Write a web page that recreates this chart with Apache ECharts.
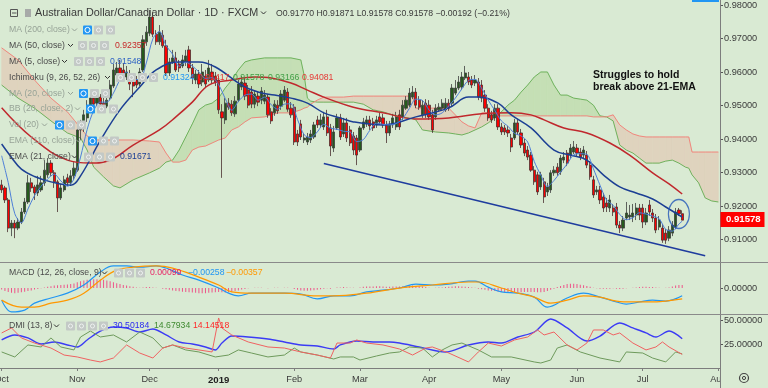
<!DOCTYPE html>
<html><head><meta charset="utf-8">
<script src="https://cdn.jsdelivr.net/npm/echarts@6/dist/echarts.min.js"></script>
<style>html,body{margin:0;padding:0;background:#d9ead3;}#c{width:768px;height:388px;}</style>
</head><body><div id="c"></div>
<script>
// ---------- categories (weekdays Oct 1 2018 .. Aug 1 2019) ----------
const cats = [];
for (let d = new Date(Date.UTC(2018, 9, 1)); d <= new Date(Date.UTC(2019, 7, 1)); d.setUTCDate(d.getUTCDate() + 1)) {
  const wd = d.getUTCDay();
  if (wd === 0 || wd === 6) continue;
  cats.push(d.toISOString().slice(0, 10));
}
const monthLabels = ['2019','Feb','Mar','Apr','May','Jun','Jul','Aug','Sep','Oct','Nov','Dec'];
const priceTicks = [0.91,0.92,0.93,0.94,0.95,0.96,0.97,0.98];
const macdTicks = [0];
const dmiTicks = [25,50];

// ---------- candles ----------
const opens = [
.9263,.9254,.9218,.9134,.9149,.9134,.9152,.9182,.9212,.9269,
.9257,.9239,.9248,.9269,.9293,.9328,.9299,.9272,.9224,.9248,
.9284,.9269,.9290,.9307,.9427,.9433,.9463,.9495,.9522,.9507,
.9525,.9507,.9498,.9522,.9558,.9591,.9612,.9606,.9585,.9591,
.9576,.9576,.9564,.9606,.9690,.9716,.9764,.9713,.9690,.9710,
.9678,.9597,.9630,.9642,.9624,.9618,.9630,.9666,.9612,.9576,
.9594,.9570,.9588,.9576,.9600,.9588,.9576,.9481,.9457,.9507,
.9504,.9475,.9516,.9555,.9567,.9546,.9540,.9504,.9528,.9516,
.9513,.9525,.9481,.9478,.9501,.9498,.9516,.9540,.9492,.9495,
.9415,.9445,.9397,.9391,.9397,.9406,.9457,.9442,.9436,.9466,
.9433,.9373,.9433,.9463,.9415,.9448,.9427,.9409,.9403,.9367,
.9433,.9445,.9457,.9451,.9442,.9466,.9463,.9442,.9418,.9442,
.9436,.9472,.9466,.9492,.9501,.9525,.9540,.9516,.9472,.9507,
.9501,.9472,.9466,.9487,.9492,.9487,.9507,.9507,.9537,.9552,
.9555,.9582,.9585,.9576,.9567,.9570,.9561,.9531,.9492,.9472,
.9463,.9492,.9436,.9433,.9427,.9403,.9403,.9448,.9418,.9388,
.9367,.9352,.9307,.9293,.9257,.9272,.9242,.9248,.9299,.9316,
.9302,.9337,.9358,.9352,.9361,.9373,.9361,.9352,.9352,.9322,
.9278,.9242,.9248,.9227,.9209,.9194,.9194,.9197,.9143,.9134,
.9164,.9167,.9167,.9173,.9194,.9194,.9152,.9203,.9179,.9164,
.9137,.9134,.9119,.9104,.9119,.9137,.9188,.9177];
const closes = [
.9248,.9218,.9134,.9149,.9134,.9152,.9182,.9212,.9269,.9254,
.9239,.9263,.9269,.9307,.9328,.9299,.9272,.9224,.9254,.9278,
.9269,.9290,.9313,.9427,.9433,.9472,.9495,.9522,.9504,.9525,
.9504,.9498,.9516,.9561,.9606,.9612,.9591,.9585,.9600,.9564,
.9558,.9561,.9600,.9696,.9719,.9764,.9713,.9690,.9719,.9678,
.9597,.9630,.9642,.9606,.9612,.9636,.9648,.9612,.9582,.9594,
.9564,.9600,.9564,.9612,.9576,.9570,.9487,.9463,.9507,.9495,
.9478,.9513,.9564,.9570,.9528,.9501,.9504,.9534,.9510,.9543,
.9531,.9472,.9454,.9504,.9484,.9534,.9546,.9489,.9472,.9391,
.9391,.9406,.9403,.9406,.9415,.9442,.9442,.9457,.9466,.9418,
.9379,.9421,.9463,.9406,.9448,.9403,.9388,.9367,.9352,.9433,
.9451,.9457,.9439,.9433,.9457,.9451,.9442,.9418,.9442,.9463,
.9466,.9436,.9501,.9516,.9537,.9540,.9501,.9495,.9501,.9472,
.9466,.9427,.9492,.9495,.9507,.9507,.9492,.9552,.9552,.9570,
.9585,.9597,.9570,.9561,.9576,.9525,.9522,.9492,.9463,.9457,
.9492,.9436,.9421,.9421,.9418,.9376,.9448,.9421,.9382,.9358,
.9346,.9307,.9272,.9242,.9293,.9227,.9257,.9299,.9307,.9299,
.9343,.9346,.9328,.9373,.9376,.9358,.9346,.9367,.9322,.9287,
.9233,.9248,.9218,.9194,.9197,.9218,.9182,.9143,.9134,.9158,
.9179,.9173,.9179,.9194,.9173,.9152,.9179,.9182,.9164,.9128,
.9158,.9098,.9098,.9128,.9143,.9182,.9177,.91578];
const lows = [
.9239,.9209,.9122,.9110,.9104,.9128,.9146,.9176,.9206,.9242,
.9218,.9230,.9242,.9260,.9284,.9290,.9254,.9182,.9218,.9242,
.9260,.9260,.9278,.9302,.9397,.9421,.9451,.9487,.9492,.9498,
.9498,.9487,.9492,.9516,.9552,.9576,.9582,.9576,.9576,.9546,
.9525,.9552,.9558,.9600,.9678,.9707,.9704,.9681,.9681,.9672,
.9588,.9588,.9624,.9600,.9600,.9612,.9618,.9600,.9564,.9564,
.9552,.9558,.9552,.9570,.9564,.9558,.9475,.9284,.9445,.9487,
.9469,.9466,.9510,.9546,.9516,.9492,.9492,.9492,.9498,.9504,
.9504,.9463,.9445,.9469,.9475,.9487,.9510,.9481,.9463,.9382,
.9379,.9397,.9388,.9382,.9388,.9400,.9433,.9433,.9427,.9409,
.9349,.9361,.9427,.9397,.9406,.9391,.9379,.9352,.9322,.9361,
.9427,.9436,.9427,.9424,.9433,.9442,.9433,.9388,.9409,.9433,
.9427,.9427,.9457,.9487,.9495,.9519,.9492,.9487,.9463,.9463,
.9457,.9418,.9457,.9481,.9484,.9481,.9484,.9498,.9531,.9546,
.9546,.9576,.9561,.9552,.9558,.9516,.9510,.9481,.9454,.9448,
.9454,.9427,.9412,.9412,.9406,.9361,.9397,.9412,.9373,.9349,
.9337,.9302,.9263,.9233,.9248,.9209,.9230,.9239,.9290,.9290,
.9293,.9328,.9319,.9343,.9355,.9349,.9337,.9343,.9313,.9278,
.9224,.9233,.9206,.9182,.9182,.9182,.9170,.9134,.9119,.9125,
.9158,.9158,.9152,.9158,.9158,.9134,.9143,.9170,.9152,.9119,
.9128,.9090,.9087,.9095,.9110,.9131,.9170,.91578];
const highs = [
.9278,.9260,.9224,.9158,.9158,.9164,.9194,.9224,.9293,.9284,
.9263,.9290,.9290,.9337,.9343,.9337,.9307,.9278,.9266,.9290,
.9296,.9307,.9331,.9442,.9457,.9487,.9516,.9534,.9534,.9540,
.9534,.9531,.9546,.9576,.9624,.9630,.9636,.9627,.9618,.9606,
.9588,.9588,.9612,.9710,.9737,.9785,.9779,.9725,.9740,.9725,
.9696,.9642,.9666,.9660,.9636,.9651,.9666,.9678,.9624,.9606,
.9606,.9624,.9606,.9636,.9624,.9600,.9588,.9504,.9522,.9522,
.9516,.9528,.9576,.9588,.9582,.9561,.9558,.9546,.9540,.9555,
.9546,.9534,.9492,.9516,.9516,.9546,.9558,.9552,.9510,.9504,
.9427,.9457,.9415,.9418,.9427,.9451,.9469,.9475,.9481,.9487,
.9445,.9439,.9475,.9475,.9463,.9463,.9439,.9421,.9412,.9439,
.9463,.9469,.9469,.9463,.9469,.9478,.9475,.9454,.9454,.9475,
.9481,.9487,.9516,.9528,.9552,.9558,.9552,.9528,.9516,.9519,
.9516,.9487,.9504,.9507,.9519,.9522,.9519,.9564,.9576,.9588,
.9600,.9618,.9600,.9588,.9591,.9582,.9576,.9546,.9504,.9484,
.9504,.9504,.9448,.9442,.9439,.9415,.9460,.9460,.9430,.9400,
.9379,.9361,.9319,.9302,.9302,.9284,.9269,.9307,.9319,.9328,
.9352,.9361,.9367,.9385,.9394,.9385,.9373,.9379,.9364,.9334,
.9290,.9260,.9260,.9239,.9224,.9233,.9206,.9209,.9155,.9170,
.9212,.9203,.9206,.9209,.9206,.9206,.9194,.9218,.9191,.9176,
.9170,.9146,.9131,.9140,.9155,.9194,.9194,.91871];

// ---------- overlays ([day index, value]) ----------
const ma50Pts = [[0,.9493],[9,.9406],[20,.9337],[27,.9328],[33,.9337],[40,.9382],[48,.9427],[53,.9466],[58,.9510],[63,.9561],[70,.9576],[77,.9585],[82,.9582],[88,.9567],[93,.9546],[98,.9525],[107,.9495],[116,.9478],[126,.9460],[136,.9463],[146,.9475],[155,.9478],[161,.9472],[165,.9457],[171,.9433],[178,.9418],[185,.9388],[191,.9352],[198,.9299],[203,.9266],[207,.92357]];
const ema21Pts = [[0,.9385],[3,.9345],[6,.9310],[10,.9288],[15,.9272],[21,.9262],[24,.9290],[30,.9395],[36,.9487],[42,.9555],[47,.9606],[54,.9630],[60,.9630],[65,.9615],[73,.9561],[78,.9540],[83,.9531],[88,.9522],[93,.9507],[98,.9478],[103,.9463],[107,.9451],[116,.9442],[126,.9466],[136,.9493],[142,.9525],[145,.9525],[151,.9507],[155,.9472],[161,.9433],[168,.9367],[173,.9352],[178,.9337],[183,.9293],[188,.9257],[193,.9239],[198,.9221],[202,.9197],[207,.91671]];
const ma5Pts = [[0,.9350],[2,.9270],[4,.9177],[6,.9150],[8,.9191],[10,.9231],[12,.9259],[14,.9281],[16,.9295],[18,.9275],[20,.9259],[22,.9281],[24,.9346],[26,.9428],[28,.9485],[30,.9510],[32,.9510],[34,.9537],[36,.9577],[38,.9599],[40,.9580],[42,.9577],[44,.9627],[46,.9699],[48,.9721],[50,.9679],[52,.9653],[54,.9617],[56,.9629],[58,.9618],[60,.9600],[62,.9581],[64,.9583],[66,.9562],[68,.9521],[70,.9486],[72,.9512],[74,.9531],[76,.9534],[78,.9516],[80,.9525],[82,.9502],[84,.9489],[86,.9504],[88,.9505],[90,.9458],[92,.9413],[94,.9404],[96,.9421],[98,.9444],[100,.9432],[102,.9429],[104,.9423],[106,.9421],[108,.9392],[110,.9398],[112,.9426],[114,.9447],[116,.9444],[118,.9442],[120,.9446],[122,.9461],[124,.9491],[126,.9519],[128,.9515],[130,.9487],[132,.9472],[134,.9478],[136,.9499],[138,.9522],[140,.9550],[142,.9575],[144,.9578],[146,.9551],[148,.9516],[150,.9485],[152,.9454],[154,.9438],[156,.9417],[158,.9409],[160,.9391],[162,.9333],[164,.9292],[166,.9258],[168,.9276],[170,.9301],[172,.9325],[174,.9353],[176,.9356],[178,.9354],[180,.9311],[182,.9262],[184,.9218],[186,.9202],[188,.9175],[190,.9159],[192,.9165],[194,.9180],[196,.9176],[198,.9170],[200,.9162],[202,.9130],[204,.9125],[206,.9146],[207,.91548]];

// Ichimoku leading spans (shifted 26 bars ahead)
const cloudIdx = [0,5,10,15,20,24,26,28,31,34,36,40,45,48,50,52,54,56,58,60,62,64,66,68,70,72,74,76,80,84,88,91,92,93,94,96,98,104,107,110,113,116,119,122,125,126,128,132,136,138,140,142,144,146,148,150,152,154,156,158,160,162,164,166,168,170,172,174,176,178,180,182,184,186,188,190,192,194,196,198,200,202,204,206,208,209,210,212,214,216,218];
const spanA = [.9561,.9522,.9492,.9454,.9418,.9403,.9367,.9316,.9287,.9260,.9254,.9278,.9299,.9313,.9331,.9337,.9367,.9406,.9445,.9487,.9501,.9507,.9522,.9552,.9576,.9606,.9630,.9636,.9642,.9642,.9642,.9636,.9591,.9522,.9513,.9510,.9510,.9510,.9510,.9504,.9487,.9481,.9472,.9466,.9460,.9457,.9427,.9421,.9418,.9415,.9412,.9418,.9427,.9436,.9448,.9463,.9481,.9501,.9516,.9540,.9561,.9585,.9600,.9600,.9561,.9531,.9531,.9522,.9519,.9516,.9501,.9469,.9466,.9454,.9382,.9367,.9358,.9343,.9328,.9328,.9328,.9334,.9337,.9328,.9316,.9313,.9293,.9269,.9224,.9215,.9212];
const spanB = [.9672,.9636,.9576,.9522,.9481,.9433,.9409,.9397,.9397,.9397,.9397,.9397,.9394,.9391,.9358,.9331,.9331,.9337,.9367,.9376,.9379,.9388,.9397,.9403,.9427,.9436,.9451,.9463,.9466,.9478,.9478,.9487,.9492,.9495,.9504,.9516,.9525,.9525,.9528,.9528,.9528,.9528,.9528,.9528,.9528,.9492,.9492,.9492,.9492,.9472,.9451,.9439,.9433,.9478,.9478,.9469,.9469,.9469,.9469,.9469,.9469,.9469,.9469,.9469,.9469,.9469,.9469,.9469,.9469,.9469,.9466,.9466,.9466,.9472,.9442,.9427,.9415,.9409,.9406,.9406,.9406,.9406,.9406,.9406,.9406,.9406,.9361,.9361,.9361,.9361,.9361];

// trend line drawing (two anchor points) and highlight circle
const trendPts = [[98,.9327],[214,.90512]];
const circlePt = [[206,.9176]];

// ---------- MACD ----------
const macdPts = [[0,-.0040],[3,-.0079],[7,-.0073],[10,-.0050],[15,-.0033],[20,-.0017],[25,.0010],[30,.0053],[34,.0073],[38,.0073],[42,.0069],[47,.0073],[50,.0066],[55,.0043],[60,.0026],[66,.0000],[69,-.0017],[72,-.0026],[76,-.0017],[81,-.0017],[86,-.0017],[91,-.0020],[96,-.0036],[101,-.0026],[106,-.0026],[111,-.0013],[116,-.0007],[121,.0000],[126,.0013],[131,.0010],[136,.0013],[142,.0023],[144,.0023],[148,.0003],[152,-.0013],[157,-.0017],[162,-.0030],[166,-.0063],[172,-.0033],[177,-.0017],[182,-.0030],[187,-.0046],[190,-.0053],[194,-.0046],[198,-.0040],[202,-.0043],[207,-.00258]];
const signalPts = [[0,-.0040],[6,-.0063],[10,-.0063],[15,-.0050],[20,-.0040],[25,-.0017],[30,.0026],[35,.0059],[40,.0069],[47,.0073],[52,.0066],[60,.0036],[66,.0010],[70,-.0013],[76,-.0017],[86,-.0017],[96,-.0026],[101,-.0026],[111,-.0017],[121,.0000],[131,.0010],[142,.0020],[145,.0020],[152,.0000],[157,-.0017],[162,-.0030],[167,-.0050],[172,-.0040],[177,-.0026],[182,-.0030],[187,-.0043],[192,-.0046],[197,-.0046],[202,-.0043],[207,-.00357]];
const hist = [
-.0005,-.0010,-.0013,
-.0016,-.0017,-.0016,-.0014,-.0012,-.0010,-.0008,
-.0005,-.0003,-.0001,.0002,.0004,
.0006,.0008,.0009,.0010,.0011,.0012,.0013,.0015,
.0019,.0022,.0025,.0027,.0028,.0029,.0029,.0028,.0027,.0025,
.0022,.0019,.0016,.0013,.0010,.0008,.0006,.0004,
.0002,.0001,.0002,.0003,.0003,.0002,.0001,.0000,
-.0002,-.0004,-.0006,-.0008,-.0010,-.0011,-.0012,-.0013,
-.0014,-.0015,-.0016,-.0017,-.0017,-.0017,-.0016,-.0015,-.0014,-.0013,
-.0014,-.0015,-.0014,-.0012,-.0010,-.0008,
-.0005,-.0003,-.0001,.0000,.0001,.0001,.0001,.0000,
-.0001,.0000,.0001,.0001,.0000,.0001,.0001,.0000,
-.0003,-.0006,-.0008,-.0009,-.0009,-.0008,-.0007,-.0006,
-.0004,-.0002,-.0001,-.0002,.0000,.0002,.0002,.0003,
.0002,.0001,.0001,.0000,.0002,.0004,.0005,.0005,
.0005,.0006,.0006,.0005,.0004,.0004,.0005,.0005,
.0005,.0006,.0007,.0008,.0008,.0007,.0006,.0005,
.0003,.0001,.0000,.0001,.0002,.0002,.0003,.0004,
.0005,.0006,.0006,.0005,.0004,.0003,.0002,.0001,
-.0002,-.0004,-.0006,-.0008,-.0009,-.0010,-.0012,-.0013,
-.0014,-.0015,-.0016,-.0015,-.0014,-.0014,-.0013,-.0013,
-.0013,-.0013,-.0014,-.0014,-.0013,-.0010,-.0006,-.0002,
.0003,.0007,.0010,.0013,.0014,.0014,.0013,.0011,
.0009,.0007,.0004,.0001,-.0001,-.0002,-.0002,-.0002,
-.0002,-.0001,-.0002,-.0003,-.0002,-.0001,.0000,.0001,
.0002,.0003,.0004,.0004,.0003,.0003,.0002,.0001,
.0000,.0001,.0002,.0005,.0008,.0010,.00099];

// ---------- DMI ----------
const dmiBlue = [[0,29.2],[4,34.4],[8,31.3],[12,25.0],[16,27.1],[20,24.0],[23,21.9],[26,29.2],[30,38.5],[34,42.7],[38,41.7],[42,37.5],[46,40.6],[50,34.4],[54,27.1],[58,25.0],[62,21.9],[65,18.8],[67,26.0],[70,33.3],[75,32.3],[81,30.2],[86,27.1],[91,24.0],[96,22.9],[101,19.8],[103,24.0],[108,28.1],[113,27.1],[118,27.1],[121,26.0],[127,21.9],[135,16.7],[142,24.0],[148,27.1],[152,26.0],[157,32.3],[162,37.5],[167,51.0],[172,41.7],[178,28.1],[182,33.3],[188,46.9],[192,41.7],[196,36.5],[199,32.3],[203,38.5],[207,30.50]];
const dmiGreen = [[0,16.7],[4,11.5],[8,24.0],[12,21.9],[15,31.3],[18,21.9],[22,18.8],[24,32.3],[27,38.5],[30,32.3],[34,34.4],[38,27.1],[42,37.5],[46,31.3],[49,20.8],[52,24.0],[56,18.8],[60,16.7],[65,11.5],[69,13.5],[72,18.8],[76,15.6],[81,11.5],[86,13.5],[89,20.8],[91,16.7],[96,13.5],[101,9.4],[103,11.5],[107,11.5],[109,8.3],[114,12.5],[118,15.6],[121,16.7],[124,21.9],[128,20.8],[131,11.5],[134,18.8],[137,24.0],[140,26.0],[145,18.8],[149,11.5],[155,11.5],[162,6.3],[164,5.2],[167,8.3],[169,20.8],[172,24.0],[176,16.7],[182,10.4],[188,6.3],[190,16.7],[195,15.6],[198,10.4],[202,6.3],[205,16.7],[207,14.68]];
const dmiRed = [[0,36.5],[3,41.7],[6,31.3],[10,26.0],[15,20.8],[19,13.5],[23,11.5],[27,8.3],[30,6.3],[34,10.4],[38,24.0],[42,15.6],[46,10.4],[49,20.8],[52,24.0],[56,20.8],[60,18.8],[64,16.7],[66,52.1],[67,41.7],[70,34.4],[75,27.1],[81,21.9],[86,20.8],[91,16.7],[96,13.5],[100,10.4],[102,26.0],[106,26.0],[108,29.2],[111,26.0],[116,24.0],[121,19.8],[125,13.5],[129,20.8],[131,21.9],[136,15.6],[142,6.3],[145,16.7],[148,26.0],[152,22.9],[156,29.2],[160,32.3],[163,39.6],[165,34.4],[168,37.5],[172,24.0],[175,18.8],[178,26.0],[180,39.6],[183,39.6],[186,34.4],[188,36.5],[192,26.0],[196,18.8],[199,21.9],[201,27.1],[203,21.9],[207,14.15]];

// ---------- build ----------
const candles = opens.map((o, k) => [o, closes[k], lows[k], highs[k]]);
const cloudSegs = cloudIdx.slice(0, -1).map((x, k) => [x, spanA[k], spanB[k], cloudIdx[k + 1], spanA[k + 1], spanB[k + 1]]);
const isFirst = cats.map((c, i) => i === 0 || c.slice(5, 7) !== cats[i - 1].slice(5, 7));
const BG = '#d9ead3';
const FONT = '"Liberation Sans", Arial, sans-serif';
const G_FILL = '#c5dfb5', R_FILL = '#dfd3be';

function renderCloud(params, api) {
  const x0 = api.value(0), a0 = api.value(1), b0 = api.value(2);
  const x1 = api.value(3), a1 = api.value(4), b1 = api.value(5);
  const A0 = api.coord([x0, a0]), B0 = api.coord([x0, b0]);
  const A1 = api.coord([x1, a1]), B1 = api.coord([x1, b1]);
  const d0 = a0 - b0, d1 = a1 - b1;
  const poly = (pts, col) => ({ type: 'polygon', shape: { points: pts }, style: { fill: col, stroke: col, lineWidth: 0.6 } });
  const children = [];
  if (d0 * d1 >= 0) {
    children.push(poly([A0, A1, B1, B0], (d0 + d1) >= 0 ? G_FILL : R_FILL));
  } else {
    const t = d0 / (d0 - d1);
    const P = [A0[0] + t * (A1[0] - A0[0]), A0[1] + t * (A1[1] - A0[1])];
    children.push(poly([A0, P, B0], d0 > 0 ? G_FILL : R_FILL));
    children.push(poly([P, A1, B1], d1 > 0 ? G_FILL : R_FILL));
  }
  return { type: 'group', children };
}

function txt(x, y, s, color, size, weight, align) {
  return { type: 'text', x: x, y: y, z: 100, style: { text: s, fill: color, font: (weight || 'normal') + ' ' + size + 'px ' + FONT, verticalAlign: 'middle', align: align || 'left' } };
}
function icon(x, y, col) {
  const g = [{ type: 'rect', z: 100, shape: { x: x, y: y - 4.5, width: 9, height: 9, r: 1 }, style: { fill: col } }];
  if (col === '#2196f3') g.push({ type: 'circle', z: 101, shape: { cx: x + 4.5, cy: y, r: 2.6 }, style: { fill: null, stroke: '#fff', lineWidth: 1 } });
  else g.push({ type: 'circle', z: 101, shape: { cx: x + 4.5, cy: y, r: 2 }, style: { fill: null, stroke: '#eef1f0', lineWidth: 1 } });
  return g;
}
function chev(x, y, col) {
  return { type: 'polyline', z: 100, shape: { points: [[x, y - 1.5], [x + 2.5, y + 1], [x + 5, y - 1.5]] }, style: { stroke: col, lineWidth: 1, fill: null } };
}

const DARK = '#4a4a4a', LIGHT = '#97a397', BLUE = '#2196f3', GRAY = '#c3c9c6';
const graphics = [];
// frame lines
graphics.push({ type: 'line', z: 90, shape: { x1: 720.5, y1: 0, x2: 720.5, y2: 388 }, style: { stroke: '#7d7d7d', lineWidth: 1 } });
graphics.push({ type: 'line', z: 90, shape: { x1: 0, y1: 262.5, x2: 768, y2: 262.5 }, style: { stroke: '#8a8a8a', lineWidth: 1 } });
graphics.push({ type: 'line', z: 90, shape: { x1: 0, y1: 314.5, x2: 768, y2: 314.5 }, style: { stroke: '#8a8a8a', lineWidth: 1 } });
graphics.push({ type: 'rect', z: 80, shape: { x: 721, y: 369, width: 47, height: 19 }, style: { fill: BG } });
graphics.push({ type: 'rect', z: 90, shape: { x: 692, y: 0, width: 27, height: 2 }, style: { fill: '#2196f3' } });
// first month label, partly cut off by the left edge
graphics.push(txt(1.6, 379.5, 'Oct', '#3a3a3a', 9.2, 'normal', 'center'));
// gear
graphics.push({ type: 'circle', z: 100, shape: { cx: 744, cy: 378, r: 4.5 }, style: { fill: null, stroke: '#444', lineWidth: 1.2 } });
graphics.push({ type: 'circle', z: 100, shape: { cx: 744, cy: 378, r: 1.6 }, style: { fill: null, stroke: '#444', lineWidth: 1 } });
// current price tag
graphics.push({ type: 'rect', z: 95, shape: { x: 720.5, y: 212, width: 44, height: 15 }, style: { fill: '#ff0000' } });
graphics.push(txt(726, 219.5, '0.91578', '#ffffff', 9.6, 'bold'));
// header
graphics.push({ type: 'rect', z: 100, shape: { x: 10.5, y: 9.5, width: 7, height: 7 }, style: { fill: null, stroke: '#555', lineWidth: 1 } });
graphics.push({ type: 'line', z: 100, shape: { x1: 12, y1: 13, x2: 16.5, y2: 13 }, style: { stroke: '#555', lineWidth: 1 } });
graphics.push({ type: 'rect', z: 100, shape: { x: 25, y: 9, width: 6, height: 8 }, style: { fill: '#a7aaa8' } });
graphics.push(txt(35, 13.5, 'Australian Dollar/Canadian Dollar · 1D · FXCM', '#3a3a3a', 10.8));
graphics.push(chev(261, 13, '#333'));
graphics.push(txt(276, 13.5, 'O0.91770 H0.91871 L0.91578 C0.91578 \u22120.00192 (\u22120.21%)', '#3a3a3a', 8.7));
// annotation
graphics.push(txt(593, 75, 'Struggles to hold', '#111', 10.5, 'bold'));
graphics.push(txt(593, 87.5, 'break above 21-EMA', '#111', 10.5, 'bold'));

// legend rows
const rows = [
  { y: 30, name: 'MA (200, close)', col: LIGHT, chev: 72, icons: [[83, BLUE], [94, GRAY], [106, GRAY]], vals: [] },
  { y: 45.5, name: 'MA (50, close)', col: DARK, chev: 68, icons: [[78, GRAY], [89, GRAY], [100, GRAY]], vals: [[115, '0.92357', '#c62828']] },
  { y: 61.5, name: 'MA (5, close)', col: DARK, chev: 62, icons: [[74, GRAY], [85, GRAY], [96, GRAY]], vals: [[110, '0.91548', '#2f63c4']] },
  { y: 77.5, name: 'Ichimoku (9, 26, 52, 26)', col: DARK, chev: 105, icons: [[116, GRAY], [127, GRAY], [138, GRAY], [149, GRAY]], vals: [[163, '0.91324', '#2196f3'], [198, '0.91417', '#e53935'], [233, '0.91578', '#43a047'], [268, '0.93166', '#43a047'], [302, '0.94081', '#e53935']] },
  { y: 93.5, name: 'MA (20, close)', col: LIGHT, chev: 68, icons: [[79, BLUE], [90, GRAY], [101, GRAY]], vals: [] },
  { y: 109, name: 'BB (20, close, 2)', col: LIGHT, chev: 75, icons: [[86, BLUE], [97, GRAY], [109, GRAY]], vals: [] },
  { y: 125, name: 'Vol (20)', col: LIGHT, chev: 42, icons: [[55, BLUE], [66, GRAY], [77, GRAY]], vals: [] },
  { y: 141, name: 'EMA (110, close)', col: LIGHT, chev: 76, icons: [[88, BLUE], [99, GRAY], [110, GRAY]], vals: [] },
  { y: 157, name: 'EMA (21, close)', col: DARK, chev: 72, icons: [[84, GRAY], [95, GRAY], [106, GRAY]], vals: [[120, '0.91671', '#1c3f94']] },
  { y: 273, name: 'MACD (12, 26, close, 9)', col: DARK, chev: 102, icons: [[114, GRAY], [125, GRAY], [136, GRAY]], vals: [[150, '0.00099', '#e91e63'], [188, '\u22120.00258', '#2196f3'], [226, '\u22120.00357', '#ff9800']] },
  { y: 326, name: 'DMI (13, 8)', col: DARK, chev: 54, icons: [[66, GRAY], [77, GRAY], [88, GRAY], [99, GRAY]], vals: [[113, '30.50184', '#2a2af0'], [154, '14.67934', '#3f8a30'], [193, '14.14518', '#ff2a2a']] }
];
rows.forEach(r => {
  graphics.push(txt(9, r.y, r.name, r.col, 8.7));
  graphics.push(chev(r.chev, r.y, r.col === DARK ? '#333' : '#97a397'));
  r.icons.forEach(ic => icon(ic[0], r.y, ic[1]).forEach(g => graphics.push(g)));
  r.vals.forEach(v => graphics.push(txt(v[0], r.y, v[1], v[2], 8.7)));
});

const labelFont = { color: '#3a3a3a', fontSize: 9.2, fontFamily: FONT };
const chart = echarts.init(document.getElementById('c'), null, { renderer: 'canvas' });
const xBase = { type: 'category', data: cats, boundaryGap: true };
chart.setOption({
  animation: false,
  backgroundColor: BG,
  grid: [
    { left: 0, width: 720, top: 0, height: 262 },
    { left: 0, width: 720, top: 262, height: 51 },
    { left: 0, width: 720, top: 314, height: 54 }
  ],
  xAxis: [
    Object.assign({}, xBase, { gridIndex: 0, show: false }),
    Object.assign({}, xBase, { gridIndex: 1, show: false }),
    Object.assign({}, xBase, {
      gridIndex: 2,
      axisLine: { show: true, lineStyle: { color: '#7d7d7d' } },
      axisTick: { show: true, length: 3, alignWithLabel: true, interval: (i) => isFirst[i], lineStyle: { color: '#7d7d7d' } },
      axisLabel: Object.assign({}, labelFont, {
        interval: (i) => i > 0 && isFirst[i], margin: 7, hideOverlap: false,
        formatter: (v) => { const m = +v.slice(5, 7) - 1; return m === 0 ? '{b|2019}' : monthLabels[m]; },
        rich: { b: { fontWeight: 'bold', fontSize: 9.6, color: '#222', fontFamily: FONT } }
      }),
      splitLine: { show: false }
    })
  ],
  yAxis: [
    { gridIndex: 0, position: 'right', min: 0.90328, max: 0.98149, scale: true,
      axisLine: { show: false }, splitLine: { show: false },
      axisTick: { show: true, length: 3, customValues: priceTicks, lineStyle: { color: '#555' } },
      axisLabel: Object.assign({}, labelFont, { customValues: priceTicks, margin: 4, formatter: (v) => v.toFixed(5) }) },
    { gridIndex: 1, position: 'right', min: -0.00825, max: 0.0086,
      axisLine: { show: false }, splitLine: { show: false },
      axisTick: { show: true, length: 3, customValues: macdTicks, lineStyle: { color: '#555' } },
      axisLabel: Object.assign({}, labelFont, { customValues: macdTicks, margin: 4, formatter: (v) => v.toFixed(5) }) },
    { gridIndex: 2, position: 'right', min: 0, max: 56.25,
      axisLine: { show: false }, splitLine: { show: false },
      axisTick: { show: true, length: 3, customValues: dmiTicks, lineStyle: { color: '#555' } },
      axisLabel: Object.assign({}, labelFont, { customValues: dmiTicks, margin: 4, formatter: (v) => v.toFixed(5) }) }
  ],
  graphic: graphics,
  series: [
    { type: 'custom', name: 'cloud', xAxisIndex: 0, yAxisIndex: 0, z: 1, clip: true,
      renderItem: renderCloud, data: cloudSegs, encode: { x: [0, 3], y: [1, 2, 4, 5] } },
    { type: 'line', name: 'spanA', data: cloudIdx.map((x, k) => [x, spanA[k]]), symbol: 'none', z: 2,
      lineStyle: { color: '#6fb35e', width: 1 } },
    { type: 'line', name: 'spanB', data: cloudIdx.map((x, k) => [x, spanB[k]]), symbol: 'none', z: 2,
      lineStyle: { color: '#f0877d', width: 1 } },
    { type: 'candlestick', name: 'AUDCAD', data: candles, z: 3, barWidth: 2.7,
      itemStyle: { color: '#255a1c', color0: '#ff0000', borderColor: '#3d3d3d', borderColor0: '#4a3030', borderWidth: 0.8 } },
    { type: 'line', name: 'MA50', data: ma50Pts, symbol: 'none', smooth: 0.4, z: 4,
      lineStyle: { color: '#c0282d', width: 1.5 } },
    { type: 'line', name: 'EMA21', data: ema21Pts, symbol: 'none', smooth: 0.4, z: 4,
      lineStyle: { color: '#1c3f94', width: 1.5 } },
    { type: 'line', name: 'MA5', data: ma5Pts, symbol: 'none', smooth: 0.3, z: 4,
      lineStyle: { color: '#4d7fd8', width: 1 } },
    { type: 'line', name: 'trend', data: trendPts, symbol: 'none', z: 5,
      lineStyle: { color: '#1f3c9e', width: 1.6 } },
    { type: 'scatter', name: 'circle', data: circlePt, symbol: 'circle', symbolSize: [21, 29], z: 6,
      itemStyle: { color: 'rgba(0,0,0,0)', borderColor: '#2256b8', borderWidth: 1.4 } },
    { type: 'bar', name: 'hist', xAxisIndex: 1, yAxisIndex: 1, data: hist, barWidth: 1, z: 2,
      itemStyle: { color: '#ee5589' } },
    { type: 'line', name: 'MACD', xAxisIndex: 1, yAxisIndex: 1, data: macdPts, symbol: 'none', smooth: 0.4, z: 3,
      lineStyle: { color: '#2196f3', width: 1.2 } },
    { type: 'line', name: 'Signal', xAxisIndex: 1, yAxisIndex: 1, data: signalPts, symbol: 'none', smooth: 0.4, z: 3,
      lineStyle: { color: '#ff9800', width: 1.2 } },
    { type: 'line', name: '+DI', xAxisIndex: 2, yAxisIndex: 2, data: dmiBlue, symbol: 'none', smooth: 0.3, z: 3,
      lineStyle: { color: '#3b3bf5', width: 1.4 } },
    { type: 'line', name: 'ADX', xAxisIndex: 2, yAxisIndex: 2, data: dmiGreen, symbol: 'none', z: 3,
      lineStyle: { color: '#6e9a5c', width: 1 } },
    { type: 'line', name: '-DI', xAxisIndex: 2, yAxisIndex: 2, data: dmiRed, symbol: 'none', z: 3,
      lineStyle: { color: '#f06262', width: 1 } }
  ]
});
</script></body></html>
